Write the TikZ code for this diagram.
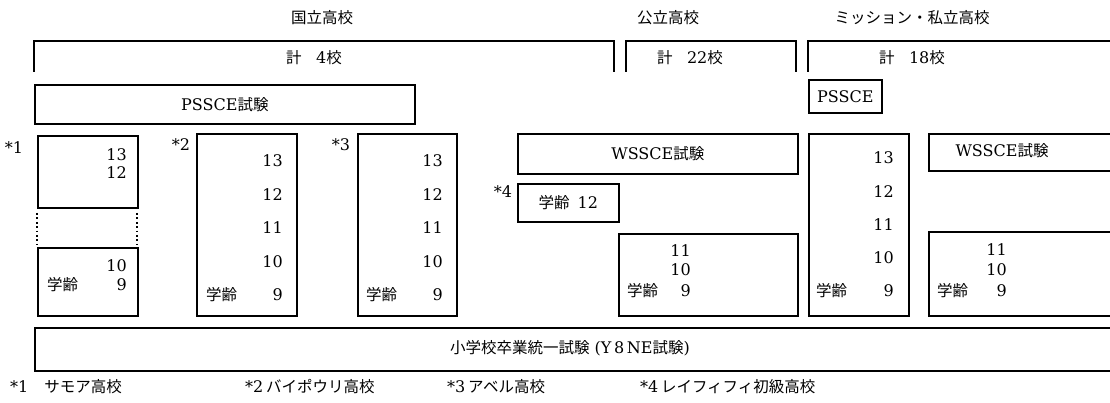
\documentclass[tikz,border=0pt]{standalone}
\usepackage{fontspec}
\setmainfont{DejaVu Serif}
\newfontfamily\jpfont{Noto Sans CJK JP}
\newcommand\jtxt[1]{{\fontsize{15.5}{18}\selectfont\jpfont #1}}
\begin{document}
\begin{tikzpicture}[x=1pt,y=-1pt,
  box/.style={draw, line width=1.7pt, inner sep=0pt, anchor=north west},
  brk/.style={line width=1.7pt},
  dotline/.style={line width=1.8pt, dash pattern=on 1.8pt off 2.6pt},
  lat/.style={font=\fontsize{16}{19}\selectfont, inner sep=0pt},
  jpn/.style={font=\fontsize{15.5}{18}\selectfont\jpfont, inner sep=0pt}]
\useasboundingbox (0,0) rectangle (1110,403);
\clip (0,0) rectangle (1110,403);

% headers
\node[jpn] (hnat) at (322,18) {国立高校};
\node[jpn] (hpub) at (668,18) {公立高校};
\node[jpn] (hpri) at (912,18) {ミッション・私立高校};

% top brackets
\draw[brk] (34,72) |- (614,41) -- (614,72);
\draw[brk] (626,72) |- (796,41) -- (796,72);
\draw[brk] (808,72) |- (1120,41);
\node[lat] (tnat) at (314,58) {\jtxt{計}\hspace{0.9em}4\jtxt{校}};
\node[lat] (tpub) at (690,58) {\jtxt{計}\hspace{0.9em}22\jtxt{校}};
\node[lat] (tpri) at (912,58) {\jtxt{計}\hspace{0.9em}18\jtxt{校}};

% PSSCE boxes
\node[box, minimum width=380pt, minimum height=39pt] (pssce1) at (34,84) {};
\node[lat] at (pssce1.center) {PSSCE\jtxt{試験}};
\node[box, minimum width=73pt, minimum height=33pt] (pssce2) at (808,79) {};
\node[lat] at (pssce2.center) {PSSCE};

% *1 column
\node[lat] (m1) at (14,148) {*1};
\node[box, minimum width=100pt, minimum height=72pt] (c1top) at (37,135) {};
\node[lat, anchor=east] at (127,155) {13};
\node[lat, anchor=east] at (127,173) {12};
\draw[dotline] (37,213) -- (37,244);
\draw[dotline] (137,213) -- (137,244);
\node[box, minimum width=100pt, minimum height=68pt] (c1bot) at (37,247) {};
\node[lat, anchor=east] at (127,266) {10};
\node[lat, anchor=east] at (127,285) {9};
\node[jpn, anchor=west] at (47,285) {学齢};

% *2 column
\node[lat] (m2) at (181,145) {*2};
\node[box, minimum width=100pt, minimum height=182pt] (c2) at (196,133) {};
\node[lat, anchor=east] at (283,161) {13};
\node[lat, anchor=east] at (283,195) {12};
\node[lat, anchor=east] at (283,228) {11};
\node[lat, anchor=east] at (283,262) {10};
\node[lat, anchor=east] at (283,295) {9};
\node[jpn, anchor=west] at (206,295) {学齢};

% *3 column
\node[lat] (m3) at (341,145) {*3};
\node[box, minimum width=99pt, minimum height=182pt] (c3) at (357,133) {};
\node[lat, anchor=east] at (443,161) {13};
\node[lat, anchor=east] at (443,195) {12};
\node[lat, anchor=east] at (443,228) {11};
\node[lat, anchor=east] at (443,262) {10};
\node[lat, anchor=east] at (443,295) {9};
\node[jpn, anchor=west] at (366,295) {学齢};

% public
\node[box, minimum width=280pt, minimum height=40pt] (wpub) at (517,133) {};
\node[lat] at (wpub.center) {WSSCE\jtxt{試験}};
\node[lat] (m4) at (503,192) {*4};
\node[box, minimum width=101pt, minimum height=38pt] (c4) at (517,183) {};
\node[lat] at (c4.center) {\jtxt{学齢}\hspace{0.5em}12};
\node[box, minimum width=179pt, minimum height=82pt] (pubbot) at (618,233) {};
\node[lat, anchor=east] at (691,251) {11};
\node[lat, anchor=east] at (691,270) {10};
\node[lat, anchor=east] at (691,291) {9};
\node[jpn, anchor=west] at (627,291) {学齢};

% private
\node[box, minimum width=100pt, minimum height=182pt] (c5) at (808,133) {};
\node[lat, anchor=east] at (894,158) {13};
\node[lat, anchor=east] at (894,192) {12};
\node[lat, anchor=east] at (894,225) {11};
\node[lat, anchor=east] at (894,258) {10};
\node[lat, anchor=east] at (894,291) {9};
\node[jpn, anchor=west] at (816,291) {学齢};
\node[box, minimum width=200pt, minimum height=37pt] (wpri) at (928,133) {};
\node[lat] at (1002,151) {WSSCE\jtxt{試験}};
\node[box, minimum width=200pt, minimum height=84pt] (pribot) at (928,231) {};
\node[lat, anchor=east] at (1007,250) {11};
\node[lat, anchor=east] at (1007,270) {10};
\node[lat, anchor=east] at (1007,291) {9};
\node[jpn, anchor=west] at (937,291) {学齢};

% primary exam
\node[box, minimum width=1090pt, minimum height=43pt] (y8) at (34,327) {};
\node[lat] at (570,348) {\jtxt{小学校卒業統一試験}\ (Y\,8\,NE\jtxt{試験})};

% footnotes
\node[lat, anchor=west] (f1) at (10,387) {*1\hspace{1em}\jtxt{サモア高校}};
\node[lat, anchor=west] (f2) at (245,387) {*2\,\jtxt{バイポウリ高校}};
\node[lat, anchor=west] (f3) at (447,387) {*3\,\jtxt{アベル高校}};
\node[lat, anchor=west] (f4) at (640,387) {*4\,\jtxt{レイフィフィ初級高校}};
\end{tikzpicture}
\end{document}
